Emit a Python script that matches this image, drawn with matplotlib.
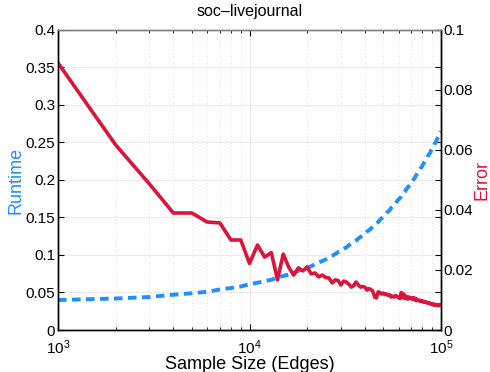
import matplotlib
matplotlib.use("Agg")
import matplotlib.pyplot as plt
import numpy as np
from matplotlib.ticker import FormatStrFormatter, LogLocator, NullFormatter

plt.rcParams['font.family'] = ['Liberation Sans', 'DejaVu Sans']

#---------
# DATA
#---------

sample_sizes = np.arange(1000, 100001, 1000)

runtime = [
    0.040, 0.042, 0.044, 0.047, 0.049, 0.051, 0.054, 0.056, 0.058, 0.061,
    0.063, 0.065, 0.067, 0.070, 0.072, 0.074, 0.076, 0.079, 0.081, 0.083,
    0.085, 0.088, 0.090, 0.092, 0.094, 0.097, 0.099, 0.101, 0.104, 0.106,
    0.108, 0.110, 0.113, 0.115, 0.117, 0.119, 0.122, 0.124, 0.126, 0.128,
    0.131, 0.133, 0.135, 0.138, 0.140, 0.142, 0.144, 0.147, 0.149, 0.151,
    0.153, 0.156, 0.158, 0.160, 0.163, 0.165, 0.167, 0.169, 0.172, 0.174,
    0.176, 0.178, 0.181, 0.183, 0.185, 0.188, 0.190, 0.192, 0.194, 0.197,
    0.199, 0.201, 0.203, 0.206, 0.208, 0.210, 0.212, 0.215, 0.217, 0.219,
    0.222, 0.224, 0.226, 0.228, 0.231, 0.233, 0.235, 0.237, 0.240, 0.242,
    0.244, 0.246, 0.249, 0.251, 0.253, 0.256, 0.258, 0.260, 0.262, 0.265,
]

error = [
    0.0890, 0.0617, 0.0487, 0.0390, 0.0390, 0.0360, 0.0357, 0.0300, 0.0300, 0.0222,
    0.0283, 0.0243, 0.0258, 0.0167, 0.0253, 0.0210, 0.0183, 0.0207, 0.0197, 0.0210,
    0.0187, 0.0190, 0.0177, 0.0183, 0.0175, 0.0173, 0.0157, 0.0167, 0.0165, 0.0150,
    0.0163, 0.0160, 0.0153, 0.0143, 0.0148, 0.0160, 0.0150, 0.0143, 0.0145, 0.0143,
    0.0133, 0.0138, 0.0135, 0.0130, 0.0110, 0.0107, 0.0127, 0.0125, 0.0120, 0.0123,
    0.0118, 0.0120, 0.0115, 0.0117, 0.0110, 0.0113, 0.0110, 0.0115, 0.0112, 0.0108,
    0.0105, 0.0125, 0.0107, 0.0120, 0.0105, 0.0112, 0.0103, 0.0110, 0.0105, 0.0107,
    0.0102, 0.0108, 0.0100, 0.0105, 0.0098, 0.0100, 0.0097, 0.0099, 0.0095, 0.0097,
    0.0093, 0.0095, 0.0092, 0.0093, 0.0090, 0.0091, 0.0088, 0.0089, 0.0086, 0.0087,
    0.0084, 0.0086, 0.0082, 0.0085, 0.0083, 0.0084, 0.0081, 0.0085, 0.0082, 0.0083,
]

runtime_ticks = [0, 0.05, 0.1, 0.15, 0.2, 0.25, 0.3, 0.35, 0.4]
error_ticks = [0, 0.02, 0.04, 0.06, 0.08, 0.1]

BLUE = '#1e90ff'
RED = '#dc143c'

#---------
# PLOT
#---------

fig = plt.figure(figsize=(4.9, 3.72), dpi=100)
ax = fig.add_axes([0.1184, 0.1129, 0.7816, 0.8065])
ax2 = ax.twinx()

ax.plot(sample_sizes, runtime, color=BLUE, lw=2.8, ls=(0, (2.2, 1.4)))
ax2.plot(sample_sizes, error, color=RED, lw=2.6)

ax.set_xscale('log')
ax.set_xlim(1e3, 1e5)
ax.set_ylim(0, 0.4)
ax2.set_ylim(0, 0.1)
ax.set_yticks(runtime_ticks)
ax2.set_yticks(error_ticks)
ax.yaxis.set_major_formatter(FormatStrFormatter('%g'))
ax2.yaxis.set_major_formatter(FormatStrFormatter('%g'))
ax.xaxis.set_major_locator(LogLocator(base=10))
ax.xaxis.set_minor_locator(LogLocator(base=10, subs=np.arange(2, 10)))
ax.xaxis.set_minor_formatter(NullFormatter())

# grid: solid horizontal, dotted vertical minors
ax.grid(True, axis='y', color='#ebebeb', lw=0.8, ls='-')
ax.grid(True, axis='x', which='major', color='#ebebeb', lw=0.8, ls='-')
ax.grid(True, axis='x', which='minor', color='#d8d8d8', lw=0.6, ls=(0, (1, 3)))
ax.set_axisbelow(True)

ax.tick_params(which='both', direction='in', top=True, right=True,
               labelsize=11, length=4, pad=2)
ax.tick_params(which='minor', length=2.5)
ax.tick_params(axis='x', which='major', pad=6)
ax2.tick_params(direction='in', labelsize=11, length=4, pad=2)

for a in (ax, ax2):
    for s in a.spines.values():
        s.set_linewidth(1.0)
    a.spines['top'].set_color('#808080')

ax.set_xlabel('Sample Size (Edges)', fontsize=13, labelpad=-1)
ax.set_ylabel('Runtime', fontsize=13, color=BLUE, labelpad=1)
ax2.set_ylabel('Error', fontsize=13, color=RED, labelpad=0)
ax.set_title('soc\u2013livejournal', fontsize=11.5, pad=10)

fig.savefig('out.png', dpi=100)
